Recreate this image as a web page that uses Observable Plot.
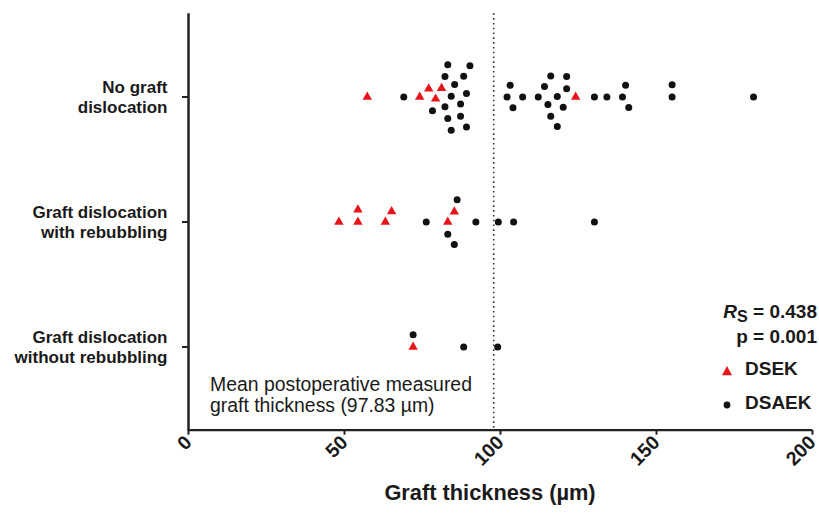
<!DOCTYPE html>
<html>
<head>
<meta charset="utf-8">
<script src="https://cdn.jsdelivr.net/npm/d3@7"></script>
<script src="https://cdn.jsdelivr.net/npm/@observablehq/plot@0.6"></script>
<style>
  html, body { margin: 0; padding: 0; background: #fff; }
  #wrap { position: relative; width: 819px; height: 517px; font-family: "Liberation Sans", Arial, sans-serif; color: #1a1a1a; }
  .ov { position: absolute; white-space: nowrap; }
  .ann { font-size: 19.4px; line-height: 21px; }
  .stat { font-size: 19px; font-weight: bold; line-height: 22px; text-align: right; }
  .leg { font-size: 19px; font-weight: bold; line-height: 22px; }
  .title { font-size: 21.8px; font-weight: bold; line-height: 24px; transform: translateX(-50%); }
</style>
</head>
<body>
<div id="wrap">
  <div id="chart"></div>
  <div class="ov ann" style="left:210px; top:374px;">Mean postoperative measured<br>graft thickness (97.83 µm)</div>
  <div class="ov stat" style="right:2px; top:301px;"><i>R</i><span style="font-size:0.85em; position:relative; top:4px;">S</span> = 0.438</div>
  <div class="ov stat" style="right:2px; top:326px;">p = 0.001</div>
  <svg class="ov" style="left:718px; top:362px;" width="20" height="54">
    <path d="M9,4 L14,13.2 L4,13.2 Z" fill="#e8141b"></path>
    <circle cx="9" cy="43" r="3.4" fill="#111"></circle>
  </svg>
  <div class="ov leg" style="left:745px; top:358px;">DSEK</div>
  <div class="ov leg" style="left:745px; top:392px;">DSAEK</div>
  <div class="ov title" style="left:490px; top:481px;">Graft thickness (µm)</div>
</div>
<script>
// Categories (rows), shown top to bottom
const categories = [
  "No graft dislocation",
  "Graft dislocation with rebubbling",
  "Graft dislocation without rebubbling"
];
const categoryLabels = [
  "No graft\ndislocation",
  "Graft dislocation\nwith rebubbling",
  "Graft dislocation\nwithout rebubbling"
];
const groups = ["DSEK", "DSAEK"];
const xTicks = [0, 50, 100, 150, 200];
const meanThickness = 97.83;

// Graft thickness (µm) per row and group
const noDislocationDSEK = [57.3, 74.1, 77.0, 79.2, 81.1, 124.1];
const noDislocationDSAEK = [69.0, 78.2, 82.2, 82.2, 83.1, 83.1, 84.2, 84.2, 85.3, 87.2, 87.2, 88.2, 89.1, 89.1, 90.2,
  102.1, 103.1, 104.0, 107.1, 112.1, 114.1, 115.2, 116.1, 116.1, 118.2, 118.2, 120.1, 121.2, 121.2,
  130.1, 134.1, 139.1, 140.1, 141.1, 155.0, 155.0, 181.1];
const rebubblingDSEK = [48.2, 54.3, 54.3, 63.1, 65.1, 83.1, 85.2];
const rebubblingDSAEK = [76.2, 83.1, 85.2, 86.1, 92.1, 99.3, 104.2, 130.1];
const noRebubblingDSEK = [72.0];
const noRebubblingDSAEK = [72.0, 88.2, 99.1];

const series = [
  [categories[0], "DSEK", noDislocationDSEK],
  [categories[0], "DSAEK", noDislocationDSAEK],
  [categories[1], "DSEK", rebubblingDSEK],
  [categories[1], "DSAEK", rebubblingDSAEK],
  [categories[2], "DSEK", noRebubblingDSEK],
  [categories[2], "DSAEK", noRebubblingDSAEK]
];
const data = series.flatMap(([category, group, values]) => values.map(value => ({category, group, value})));

const ink = "#1a1a1a";
const ext = 20.7;          // facet outer padding in px
const step = 125.5;        // facet band height in px

const chart = Plot.plot({
  width: 819,
  height: 517,
  marginLeft: 188,
  marginRight: 7,
  marginTop: 12,
  marginBottom: 87,
  style: {fontFamily: "'Liberation Sans', Arial, sans-serif", color: ink, background: "white", overflow: "visible"},
  x: {domain: [0, 200]},
  y: {domain: [0, 1], axis: null},
  fy: {domain: categories, padding: 0, paddingInner: 0, paddingOuter: 0.165, label: null},
  symbol: {domain: groups, range: ["triangle", "circle"]},
  color: {domain: groups, range: ["#e8141b", "#111111"]},
  marks: [
    Plot.ruleX([0], {fy: [categories[0]], stroke: "#222", strokeWidth: 2.5, insetTop: -ext, insetBottom: -(ext + 2 * step)}),
    Plot.ruleX([meanThickness], {fy: [categories[0]], stroke: "#333", strokeWidth: 1.6, strokeDasharray: "1.6,3.2", insetTop: -ext, insetBottom: -(ext + 2 * step)}),
    Plot.ruleY([0], {fy: [categories[2]], stroke: "#222", strokeWidth: 2.2, dy: ext}),
    Plot.axisFy({
      anchor: "left",
      tickSize: 6,
      tickPadding: 15,
      strokeWidth: 2,
      stroke: "#222",
      fontSize: 17,
      fontWeight: "bold",
      lineHeight: 1.15,
      label: null,
      tickFormat: d => categoryLabels[categories.indexOf(d)]
    }),
    Plot.axisX({
      ticks: xTicks,
      tickRotate: -45,
      tickSize: 5,
      tickPadding: 4,
      strokeWidth: 2,
      stroke: "#222",
      fontSize: 19.5,
      fontWeight: "bold",
      label: null,
      dy: ext
    }),
    Plot.dot(data, Plot.dodgeY({anchor: "middle", padding: 5.2}, {
      x: "value",
      fy: "category",
      r: 3.5,
      symbol: "group",
      fill: "group",
      stroke: "none"
    }))
  ]
});
document.getElementById("chart").appendChild(chart);
</script>
</body>
</html>
